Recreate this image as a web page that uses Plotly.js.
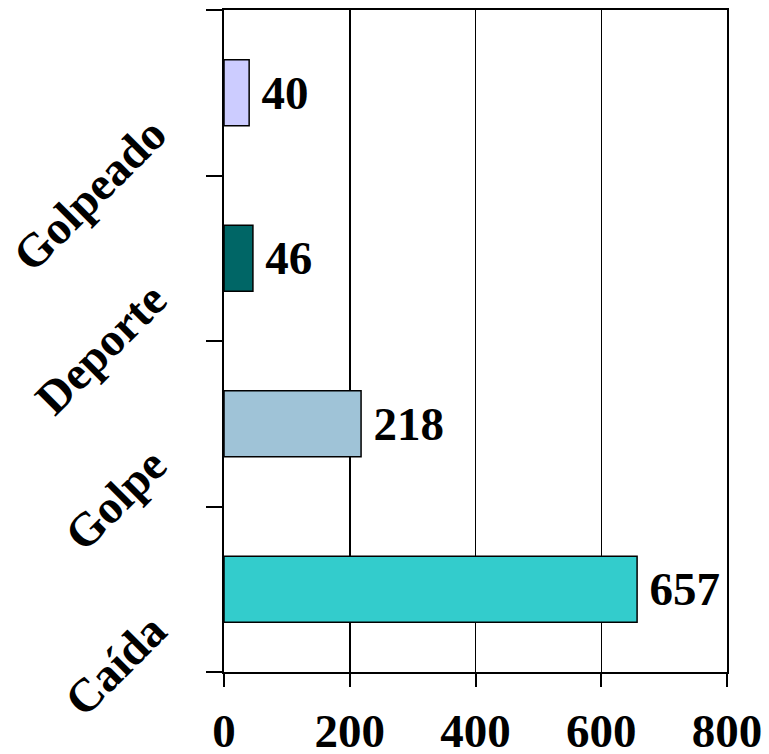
<!DOCTYPE html>
<html>
<head>
<meta charset="utf-8">
<script src="https://cdn.plot.ly/plotly-3.0.1.min.js"></script>
<style>html,body{margin:0;padding:0;background:#fff;}#chart{width:769px;height:754px;}</style>
</head>
<body>
<div id="chart"></div>
<script>
var categories = ["Caída", "Golpe", "Deporte", "Golpeado"];
var values = [657, 218, 46, 40];
var barColors = ["#33CCCC", "#9FC3D7", "#006666", "#CCCCFF"];
var xTickVals = [0, 200, 400, 600, 800];
var xTickText = ["0", "200", "400", "600", "800"];

var fontFamily = "Liberation Serif, Times New Roman, serif";

var trace = {
  type: "bar",
  orientation: "h",
  y: categories,
  x: values,
  marker: { color: barColors, line: { color: "#000000", width: 1.5 } },
  text: values.map(function (v) { return "\u2009" + v; }),
  textposition: "outside",
  textfont: { family: fontFamily, size: 47, color: "#000000", weight: "bold" },
  constraintext: "none",
  cliponaxis: false,
  hoverinfo: "none"
};

var layout = {
  width: 769,
  height: 754,
  autosize: false,
  margin: { l: 224, r: 42, t: 10, b: 82, pad: 0 },
  paper_bgcolor: "#ffffff",
  plot_bgcolor: "#ffffff",
  showlegend: false,
  bargap: 0.6,
  font: { family: fontFamily, size: 47, color: "#000000", weight: "bold" },
  xaxis: {
    range: [0, 800],
    tickvals: xTickVals,
    ticktext: xTickText,
    showgrid: true,
    gridcolor: "#000000",
    gridwidth: 1.5,
    zeroline: false,
    showline: true,
    linecolor: "#000000",
    linewidth: 2,
    mirror: true,
    ticks: "outside",
    ticklen: 13,
    tickwidth: 2,
    tickcolor: "#000000",
    ticklabelstandoff: 4,
    tickfont: { family: fontFamily, size: 47, color: "#000000", weight: "bold" },
    fixedrange: true
  },
  yaxis: {
    type: "category",
    categoryorder: "array",
    categoryarray: categories,
    showgrid: false,
    zeroline: false,
    showline: true,
    linecolor: "#000000",
    linewidth: 2,
    mirror: true,
    ticks: "outside",
    tickson: "boundaries",
    ticklen: 16,
    tickwidth: 2,
    tickcolor: "#000000",
    tickangle: -45,
    ticklabelstandoff: 60,
    ticklabelshift: 35,
    tickfont: { family: fontFamily, size: 47, color: "#000000", weight: "bold" },
    fixedrange: true
  }
};

Plotly.newPlot("chart", [trace], layout, { displayModeBar: false, staticPlot: true });
</script>
</body>
</html>
